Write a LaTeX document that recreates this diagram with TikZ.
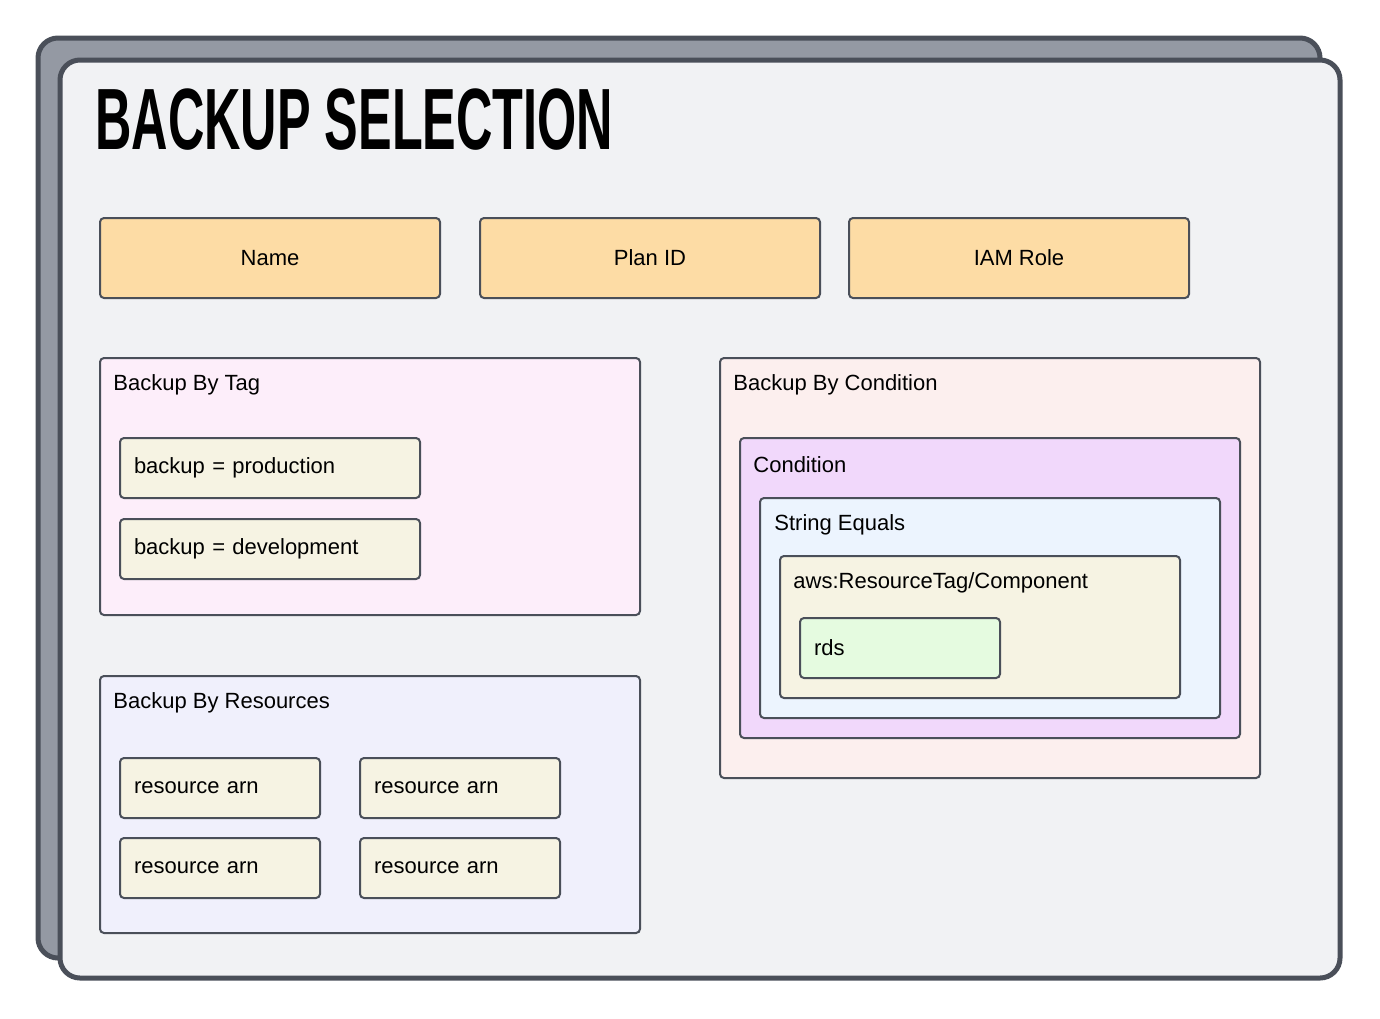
\documentclass[tikz,border=0pt]{standalone}
\usepackage{fontspec}
\setmainfont{Liberation Sans}
\usetikzlibrary{positioning}
\definecolor{edge}{HTML}{4A4F59}
\definecolor{shadowgray}{HTML}{9499A3}
\definecolor{sheet}{HTML}{F1F2F4}
\definecolor{field}{HTML}{FDDCA5}
\definecolor{tagbg}{HTML}{FDEEFA}
\definecolor{resbg}{HTML}{F0F0FC}
\definecolor{condbg}{HTML}{FCEFEE}
\definecolor{condin}{HTML}{F1D8FB}
\definecolor{streq}{HTML}{ECF4FE}
\definecolor{item}{HTML}{F6F3E3}
\definecolor{value}{HTML}{E5FBE0}
\tikzset{
  box/.style={draw=edge, line width=1pt, rounded corners=2pt, anchor=north west, inner sep=0pt},
  field/.style={box, fill=field, minimum width=170pt, minimum height=40pt, font=\fontsize{11}{13}\selectfont},
  entry/.style={box, fill=item, minimum height=30pt, text width=#1, align=left, inner xsep=7pt, font=\fontsize{11}{13}\selectfont},
  caption/.style={anchor=west, inner sep=0pt, font=\fontsize{11}{13}\selectfont}
}
\begin{document}
\begin{tikzpicture}[x=0.5pt,y=-0.5pt]
  \useasboundingbox (0,0) rectangle (1380,1018);

  % the two sheets
  \draw [line width=2.5pt, color=edge, fill=shadowgray, rounded corners=10pt] (38,38) rectangle (1320,958);
  \draw [line width=2.5pt, color=edge, fill=sheet, rounded corners=10pt] (60,60) rectangle (1340,978);
  \node [anchor=west, inner sep=0pt] (title) at (95,120)
    {\fontsize{30}{30}\selectfont\bfseries\scalebox{0.84}[1.45]{BACKUP SELECTION}};

  % top fields
  \node [field] (name) at (99,217) {Name};
  \node [field] (plan) at (479,217) {Plan ID};
  \node [field] (role) at (848,217) {IAM Role};

  % backup by tag
  \node [box, fill=tagbg, minimum width=270pt, minimum height=128.5pt] (bytag) at (99,357) {};
  \node [caption] (bytaglbl) at (113,385) {Backup By Tag};
  \node [entry=136pt] (prod) at (119,437) {backup = production};
  \node [entry=136pt] (dev) at (119,518) {backup = development};

  % backup by resources
  \node [box, fill=resbg, minimum width=270pt, minimum height=128.5pt] (byres) at (99,675) {};
  \node [caption] (byreslbl) at (113,703) {Backup By Resources};
  \node [entry=86pt] (arna) at (119,757) {resource arn};
  \node [entry=86pt] (arnb) at (359,757) {resource arn};
  \node [entry=86pt] (arnc) at (119,837) {resource arn};
  \node [entry=86pt] (arnd) at (359,837) {resource arn};

  % backup by condition
  \node [box, fill=condbg, minimum width=270pt, minimum height=210pt] (bycond) at (719,357) {};
  \node [caption] (bycondlbl) at (733,385) {Backup By Condition};
  \node [box, fill=condin, minimum width=250pt, minimum height=150pt] (cond) at (739,437) {};
  \node [caption] (condlbl) at (753,465) {Condition};
  \node [box, fill=streq, minimum width=230pt, minimum height=110pt] (equals) at (759,497) {};
  \node [caption] (equalslbl) at (774,525) {String Equals};
  \node [box, fill=item, minimum width=200pt, minimum height=71pt] (tagkey) at (779,555) {};
  \node [caption] (tagkeylbl) at (793,583) {aws:ResourceTag/Component};
  \node [entry=86pt, fill=value] (rds) at (799,617) {rds};
\end{tikzpicture}
\end{document}
